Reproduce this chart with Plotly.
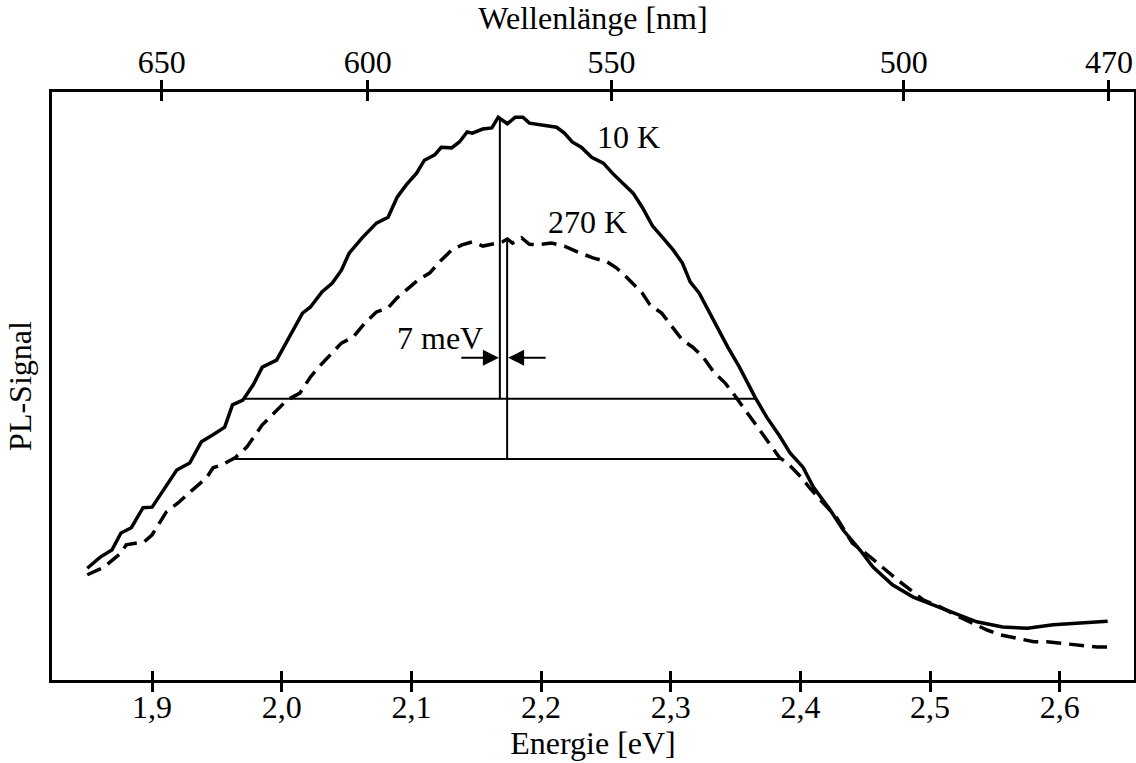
import numpy as np
import plotly.graph_objects as go

# ---------------- data ----------------
# 10 K spectrum (solid)
E_10K = [1.850, 1.860, 1.869, 1.876, 1.884, 1.893, 1.900, 1.907, 1.919, 1.929,
         1.938, 1.947, 1.956, 1.962, 1.970, 1.978, 1.985, 1.996, 2.006, 2.016,
         2.022, 2.031, 2.039, 2.046, 2.052, 2.062, 2.073, 2.082, 2.089, 2.096,
         2.104, 2.110, 2.118, 2.123, 2.131, 2.137, 2.143, 2.147, 2.155, 2.162,
         2.167, 2.174, 2.180, 2.186, 2.191, 2.201, 2.212, 2.218, 2.224, 2.231,
         2.239, 2.248, 2.255, 2.263, 2.271, 2.278, 2.286, 2.294, 2.302, 2.309,
         2.315, 2.322, 2.329, 2.336, 2.344, 2.353, 2.365, 2.374, 2.384, 2.392,
         2.402, 2.410, 2.423, 2.433, 2.446, 2.456, 2.471, 2.487, 2.502, 2.518,
         2.536, 2.556, 2.575, 2.595, 2.613, 2.637]
S_10K = [19.0, 20.9, 22.1, 25.0, 25.9, 29.3, 29.4, 31.8, 35.7, 36.9,
         40.5, 41.7, 43.0, 46.8, 47.6, 50.2, 53.2, 54.4, 58.3, 62.4,
         63.4, 66.0, 67.5, 69.7, 72.6, 75.2, 77.7, 78.7, 82.1, 84.2,
         86.2, 88.4, 89.3, 90.6, 90.5, 91.5, 93.2, 93.0, 93.7, 93.9,
         95.7, 94.6, 95.7, 95.7, 94.7, 94.4, 94.0, 93.0, 91.5, 90.6,
         88.9, 87.9, 86.2, 84.5, 82.8, 80.4, 77.2, 75.2, 73.1, 70.9,
         67.7, 65.8, 62.9, 60.0, 56.6, 53.2, 48.1, 44.7, 41.5, 38.6,
         36.2, 32.8, 28.9, 25.5, 22.1, 19.2, 16.2, 14.1, 12.8, 11.4,
         9.9, 9.0, 8.8, 9.4, 9.7, 10.0]

# 270 K spectrum (dashed)
E_270K = [1.850, 1.863, 1.876, 1.880, 1.894, 1.900, 1.911, 1.920, 1.931, 1.942,
          1.947, 1.954, 1.964, 1.973, 1.985, 1.998, 2.004, 2.014, 2.022, 2.028,
          2.037, 2.046, 2.055, 2.064, 2.073, 2.082, 2.089, 2.096, 2.105, 2.114,
          2.123, 2.131, 2.139, 2.147, 2.155, 2.166, 2.170, 2.174, 2.178, 2.185,
          2.191, 2.197, 2.208, 2.218, 2.228, 2.240, 2.251, 2.258, 2.266, 2.278,
          2.284, 2.293, 2.301, 2.309, 2.317, 2.325, 2.333, 2.342, 2.349, 2.356,
          2.365, 2.374, 2.384, 2.390, 2.401, 2.407, 2.417, 2.428, 2.440, 2.454,
          2.475, 2.485, 2.495, 2.508, 2.523, 2.544, 2.554, 2.567, 2.580, 2.590,
          2.600, 2.613, 2.629, 2.637]
S_270K = [17.9, 19.2, 21.6, 23.0, 23.5, 24.7, 28.6, 30.1, 32.3, 34.4,
          36.1, 36.6, 37.8, 39.6, 43.4, 46.4, 47.6, 48.8, 51.5, 53.1,
          55.3, 57.3, 58.3, 60.7, 62.6, 63.3, 65.0, 66.3, 68.0, 69.2,
          71.4, 73.1, 74.0, 74.5, 73.8, 74.3, 74.5, 75.0, 74.3, 75.2,
          74.1, 74.0, 74.3, 73.8, 72.8, 71.8, 71.1, 70.1, 68.5, 65.8,
          63.8, 62.4, 60.0, 57.8, 56.6, 54.9, 52.4, 50.5, 48.5, 46.4,
          43.7, 40.8, 37.8, 36.9, 34.4, 32.7, 30.3, 27.6, 23.3, 20.9,
          17.0, 15.3, 13.6, 12.4, 10.7, 8.5, 7.7, 7.1, 6.5, 6.5,
          6.3, 6.0, 5.6, 5.6]

energy_ticks = [1.9, 2.0, 2.1, 2.2, 2.3, 2.4, 2.5, 2.6]
energy_tick_labels = ["1,9", "2,0", "2,1", "2,2", "2,3", "2,4", "2,5", "2,6"]
wavelength_ticks_nm = [650, 600, 550, 500, 470]
wavelength_tick_labels = ["650", "600", "550", "500", "470"]

label_10K = "10 K"
label_270K = "270 K"
label_shift = "7 meV"

# ---------------- helpers ----------------
HC = 1239.84  # eV*nm


def fwhm(E, S):
    E = np.asarray(E, float)
    S = np.asarray(S, float)
    i = int(np.argmax(S))
    h = S[i] / 2.0
    j = np.where(S[:i] < h)[0][-1]
    El = E[j] + (h - S[j]) * (E[j + 1] - E[j]) / (S[j + 1] - S[j])
    k = i + np.where(S[i:] < h)[0][0]
    Er = E[k - 1] + (h - S[k - 1]) * (E[k] - E[k - 1]) / (S[k] - S[k - 1])
    return El, Er, h, S[i]


x_range = [1.8228, 2.6573]
y_range = [0, 100]
FONT = "Liberation Serif, Times New Roman, serif"
FS = 32

fig = go.Figure()

fig.add_trace(go.Scatter(x=E_10K, y=S_10K, mode="lines",
                         line=dict(color="black", width=3.5), hoverinfo="skip"))
fig.add_trace(go.Scatter(x=E_270K, y=S_270K, mode="lines",
                         line=dict(color="black", width=3.5, dash="15px,8px"),
                         hoverinfo="skip"))

centers = []
for E, S in [(E_10K, S_10K), (E_270K, S_270K)]:
    El, Er, h, m = fwhm(E, S)
    c = 0.5 * (El + Er)
    centers.append(c)
    fig.add_trace(go.Scatter(x=[El, Er], y=[h, h], mode="lines",
                             line=dict(color="black", width=2), hoverinfo="skip"))
    fig.add_trace(go.Scatter(x=[c, c], y=[h, m], mode="lines",
                             line=dict(color="black", width=2), hoverinfo="skip"))

# dummy traces to register overlay axes
for xa, ya in [("x2", "y"), ("x3", "y"), ("x4", "y"), ("x", "y2")]:
    fig.add_trace(go.Scatter(x=[E_10K[0]], y=[S_10K[0]], xaxis=xa, yaxis=ya,
                             mode="markers", marker=dict(opacity=0),
                             hoverinfo="skip", showlegend=False))

wl_pos = [HC / w for w in wavelength_ticks_nm]

tickfont = dict(family=FONT, size=FS, color="black")
common_x = dict(range=x_range, showgrid=False, zeroline=False,
                tickwidth=3, ticklen=9, tickcolor="black")

fig.update_layout(
    width=1136, height=763,
    margin=dict(l=52, r=2, t=92, b=83),
    paper_bgcolor="white", plot_bgcolor="white",
    showlegend=False,
    font=dict(family=FONT, size=FS, color="black"),
    xaxis=dict(**common_x, side="bottom", ticks="outside",
               tickmode="array", tickvals=energy_ticks, ticktext=energy_tick_labels,
               tickfont=tickfont, ticklabelstandoff=-12,
               showline=True, linewidth=3, linecolor="black",
               title=dict(text="Energie [eV]", font=tickfont, standoff=4)),
    xaxis2=dict(**common_x, overlaying="x", side="top", anchor="y", ticks="outside",
                tickmode="array", tickvals=wl_pos, ticktext=wavelength_tick_labels,
                tickfont=tickfont, ticklabelstandoff=-6,
                showline=True, linewidth=3, linecolor="black",
                title=dict(text="Wellenlänge [nm]", font=tickfont, standoff=6)),
    xaxis3=dict(**common_x, overlaying="x", side="bottom", anchor="y", ticks="inside",
                tickmode="array", tickvals=energy_ticks, showticklabels=False),
    xaxis4=dict(**common_x, overlaying="x", side="top", anchor="y", ticks="inside",
                tickmode="array", tickvals=wl_pos, showticklabels=False),
    yaxis=dict(range=y_range, showgrid=False, zeroline=False, showticklabels=False,
               ticks="", showline=True, linewidth=3, linecolor="black",
               title=dict(text="PL-Signal", font=tickfont, standoff=8)),
    yaxis2=dict(range=y_range, overlaying="y", side="right", anchor="x",
                showgrid=False, zeroline=False, showticklabels=False, ticks="",
                showline=True, linewidth=2, linecolor="black"),
)

annot_font = dict(family=FONT, size=FS, color="black")
fig.add_annotation(x=2.2677, y=92.3, text=label_10K, showarrow=False, font=annot_font)
fig.add_annotation(x=2.236, y=77.9, text=label_270K, showarrow=False, font=annot_font)
fig.add_annotation(x=2.1218, y=58.2, text=label_shift, showarrow=False, font=annot_font)

arrow_y = 54.8
fig.add_annotation(x=centers[0], y=arrow_y, ax=-40, ay=0, text="", showarrow=True,
                   arrowhead=2, arrowsize=1.6, arrowwidth=2, arrowcolor="black", standoff=1)
fig.add_annotation(x=centers[1], y=arrow_y, ax=40, ay=0, text="", showarrow=True,
                   arrowhead=2, arrowsize=1.6, arrowwidth=2, arrowcolor="black", standoff=1)

fig.write_html("out.html")
